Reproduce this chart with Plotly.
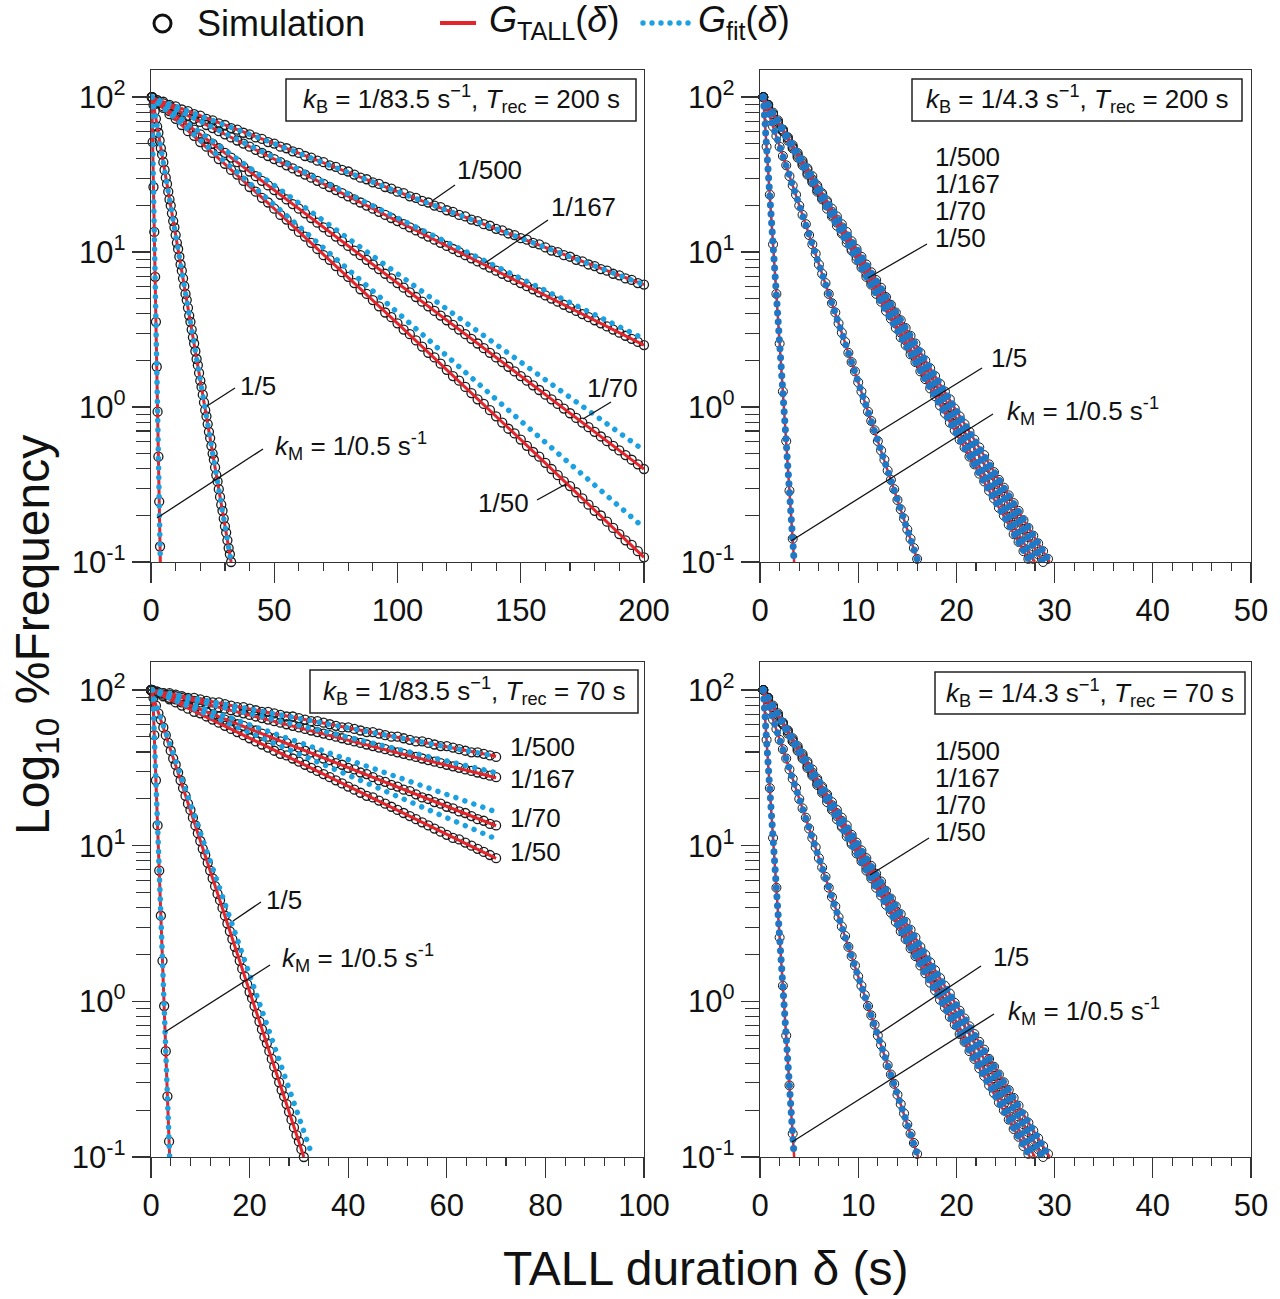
import plotly.graph_objects as go

W, H = 1280, 1299
FONT = "Liberation Sans, Arial, sans-serif"
TXT = "#111111"
AX = "#333333"
SIM_C = "#1a1a1a"
RED = "#e3242b"
BLUE_L = "#1ba1e2"   # Gfit colour, left panels
BLUE_R = "#1f78c6"   # Gfit colour, right panels

# ---------------- data: log10(%Frequency) ----------------
# Top-left panel: kB = 1/83.5 s^-1, Trec = 200 s
TL_T_SLOW = [0.33, 2.5, 5, 7.5, 10, 12.5, 15, 17.5, 20, 22.5, 25, 27.5, 30, 32.5, 35, 37.5, 40, 42.5, 45, 47.5,
             50, 52.5, 55, 57.5, 60, 62.5, 65, 67.5, 70, 72.5, 75, 77.5, 80, 82.5, 85, 87.5, 90, 92.5, 95, 97.5,
             100, 102.5, 105, 107.5, 110, 112.5, 115, 117.5, 120, 122.5, 125, 127.5, 130, 132.5, 135, 137.5,
             140, 142.5, 145, 147.5, 150, 152.5, 155, 157.5, 160, 162.5, 165, 167.5, 170, 172.5, 175, 177.5,
             180, 182.5, 185, 187.5, 190, 192.5, 195, 197.5, 200]
TL_SIM_500 = [2.00, 1.98, 1.97, 1.95, 1.94, 1.92, 1.91, 1.89, 1.88, 1.86,
              1.85, 1.83, 1.82, 1.80, 1.79, 1.77, 1.76, 1.74, 1.73, 1.71,
              1.70, 1.68, 1.67, 1.65, 1.64, 1.62, 1.61, 1.59, 1.58, 1.56,
              1.55, 1.53, 1.52, 1.50, 1.48, 1.47, 1.45, 1.44, 1.42, 1.41,
              1.39, 1.38, 1.36, 1.35, 1.33, 1.32, 1.30, 1.29, 1.27, 1.26,
              1.24, 1.23, 1.21, 1.20, 1.18, 1.17, 1.15, 1.14, 1.12, 1.11,
              1.09, 1.08, 1.06, 1.05, 1.03, 1.01, 1.00, 0.98, 0.97, 0.95,
              0.94, 0.92, 0.91, 0.89, 0.88, 0.86, 0.85, 0.83, 0.82, 0.80, 0.79]
TL_SIM_167 = [2.00, 1.98, 1.96, 1.94, 1.92, 1.90, 1.88, 1.86, 1.84, 1.82,
              1.80, 1.78, 1.76, 1.74, 1.72, 1.70, 1.68, 1.66, 1.64, 1.62,
              1.60, 1.58, 1.56, 1.54, 1.52, 1.50, 1.48, 1.46, 1.44, 1.42,
              1.40, 1.38, 1.36, 1.34, 1.32, 1.30, 1.28, 1.26, 1.24, 1.22,
              1.20, 1.18, 1.16, 1.14, 1.12, 1.10, 1.08, 1.06, 1.04, 1.02,
              1.00, 0.98, 0.96, 0.94, 0.92, 0.90, 0.88, 0.86, 0.84, 0.82,
              0.80, 0.78, 0.76, 0.74, 0.72, 0.70, 0.68, 0.66, 0.64, 0.62,
              0.60, 0.58, 0.56, 0.54, 0.52, 0.50, 0.48, 0.46, 0.44, 0.42, 0.40]
TL_SIM_70 = [2.00, 1.97, 1.94, 1.91, 1.88, 1.85, 1.82, 1.79, 1.76, 1.73,
             1.70, 1.67, 1.64, 1.61, 1.58, 1.55, 1.52, 1.49, 1.46, 1.43,
             1.40, 1.37, 1.34, 1.31, 1.28, 1.25, 1.22, 1.19, 1.16, 1.13,
             1.10, 1.07, 1.04, 1.01, 0.98, 0.95, 0.92, 0.89, 0.86, 0.83,
             0.80, 0.77, 0.74, 0.71, 0.68, 0.65, 0.62, 0.59, 0.56, 0.53,
             0.50, 0.47, 0.44, 0.41, 0.38, 0.35, 0.32, 0.29, 0.26, 0.23,
             0.20, 0.17, 0.14, 0.11, 0.08, 0.05, 0.02, -0.01, -0.04, -0.07,
             -0.10, -0.13, -0.16, -0.19, -0.22, -0.25, -0.28, -0.31, -0.34, -0.37, -0.40]
TL_SIM_50 = [2.00,
             1.96, 1.93, 1.89, 1.86, 1.82, 1.78, 1.75, 1.71, 1.68, 1.64,
             1.60, 1.57, 1.53, 1.50, 1.46, 1.42, 1.39, 1.35, 1.32, 1.28,
             1.24, 1.21, 1.17, 1.13, 1.10, 1.06, 1.02, 0.98, 0.95, 0.91,
             0.87, 0.84, 0.80, 0.76, 0.73, 0.69, 0.65, 0.61, 0.58, 0.54,
             0.50, 0.47, 0.43, 0.39, 0.35, 0.32, 0.28, 0.24, 0.20, 0.17,
             0.13, 0.09, 0.05, 0.02, -0.02, -0.06, -0.10, -0.14, -0.17, -0.21,
             -0.25, -0.29, -0.32, -0.36, -0.40, -0.44, -0.48, -0.51, -0.55, -0.59,
             -0.63, -0.67, -0.70, -0.74, -0.78, -0.82, -0.86, -0.89, -0.93, -0.97]
TL_T_FAST = [0.5, 1, 1.5, 2, 2.5, 3, 3.5, 4, 4.5, 5, 5.5, 6, 6.5, 7, 7.5, 8, 8.5, 9, 9.5, 10,
             10.5, 11, 11.5, 12, 12.5, 13, 13.5, 14, 14.5, 15, 15.5, 16, 16.5, 17, 17.5, 18, 18.5, 19, 19.5, 20,
             20.5, 21, 21.5, 22, 22.5, 23, 23.5, 24, 24.5, 25, 25.5, 26, 26.5, 27, 27.5, 28, 28.5, 29, 29.5, 30,
             30.5, 31, 31.5, 32, 32.5]
TL_SIM_5 = [2.00, 1.95, 1.91, 1.86, 1.81, 1.77, 1.72, 1.67, 1.63, 1.58,
            1.53, 1.48, 1.44, 1.39, 1.34, 1.30, 1.25, 1.20, 1.16, 1.11,
            1.06, 1.02, 0.97, 0.92, 0.88, 0.83, 0.78, 0.73, 0.69, 0.64,
            0.59, 0.55, 0.50, 0.45, 0.41, 0.36, 0.31, 0.27, 0.22, 0.17,
            0.13, 0.08, 0.03, -0.02, -0.06, -0.11, -0.16, -0.20, -0.25, -0.30,
            -0.34, -0.39, -0.44, -0.48, -0.53, -0.58, -0.63, -0.67, -0.72, -0.77,
            -0.81, -0.86, -0.91, -0.95, -1.00]
L_T_KM = [0.33, 0.67, 1.0, 1.33, 1.67, 2.0, 2.33, 2.67, 3.0, 3.33, 3.67]
L_SIM_KM = [2.00, 1.71, 1.42, 1.13, 0.84, 0.55, 0.26, -0.03, -0.32, -0.61, -0.90]

TL_T_LINE = [0, 50, 100, 150, 200]
TL_RED_500 = [2.00, 1.70, 1.39, 1.09, 0.79]
TL_RED_167 = [2.00, 1.60, 1.20, 0.80, 0.40]
TL_RED_70 = [2.00, 1.40, 0.80, 0.20, -0.40]
TL_RED_50 = [2.00, 1.28, 0.54, -0.21, -0.97]
TL_FIT_500 = [2.00, 1.70, 1.39, 1.09, 0.79]
TL_FIT_167 = [2.00, 1.61, 1.22, 0.83, 0.44]
TL_FIT_70 = [2.00, 1.43, 0.86, 0.29, -0.28]
TL_FIT_50 = [2.00, 1.31, 0.61, -0.09, -0.78]
TL_T_LINE5 = [0.5, 32.5]
TL_RED_5 = [2.00, -1.00]
TL_FIT_5 = [2.00, -1.00]
L_T_LINEKM = [0.33, 3.78]
L_RED_KM = [2.00, -1.00]
L_FIT_KM = [2.00, -1.00]

# Bottom-left panel: kB = 1/83.5 s^-1, Trec = 70 s
BL_T_SLOW = [0, 1.25, 2.5, 3.75, 5, 6.25, 7.5, 8.75, 10, 11.25, 12.5, 13.75, 15, 16.25, 17.5, 18.75,
             20, 21.25, 22.5, 23.75, 25, 26.25, 27.5, 28.75, 30, 31.25, 32.5, 33.75, 35, 36.25, 37.5, 38.75,
             40, 41.25, 42.5, 43.75, 45, 46.25, 47.5, 48.75, 50, 51.25, 52.5, 53.75, 55, 56.25, 57.5, 58.75,
             60, 61.25, 62.5, 63.75, 65, 66.25, 67.5, 68.75, 70]
BL_SIM_500 = [2.00, 1.99, 1.98, 1.98, 1.97, 1.96, 1.95, 1.95, 1.94, 1.93,
              1.92, 1.92, 1.91, 1.90, 1.89, 1.89, 1.88, 1.87, 1.86, 1.86,
              1.85, 1.84, 1.83, 1.83, 1.82, 1.81, 1.80, 1.80, 1.79, 1.78,
              1.77, 1.76, 1.76, 1.75, 1.74, 1.73, 1.73, 1.72, 1.71, 1.70,
              1.70, 1.69, 1.68, 1.67, 1.67, 1.66, 1.65, 1.64, 1.64, 1.63,
              1.62, 1.61, 1.60, 1.60, 1.59, 1.58, 1.57]
BL_SIM_167 = [2.00, 1.99, 1.98, 1.97, 1.96, 1.95, 1.94, 1.93, 1.92, 1.91,
              1.90, 1.89, 1.88, 1.87, 1.86, 1.85, 1.84, 1.83, 1.82, 1.81,
              1.80, 1.79, 1.78, 1.77, 1.76, 1.75, 1.74, 1.73, 1.72, 1.71,
              1.70, 1.69, 1.68, 1.67, 1.66, 1.65, 1.64, 1.63, 1.62, 1.61,
              1.60, 1.59, 1.58, 1.57, 1.56, 1.55, 1.54, 1.53, 1.52, 1.51,
              1.50, 1.49, 1.48, 1.47, 1.46, 1.45, 1.44]
BL_SIM_70 = [2.00, 1.98, 1.97, 1.95, 1.94, 1.92, 1.91, 1.89, 1.88, 1.86,
             1.84, 1.83, 1.81, 1.80, 1.78, 1.77, 1.75, 1.74, 1.72, 1.70,
             1.69, 1.67, 1.66, 1.64, 1.63, 1.61, 1.60, 1.58, 1.56, 1.55,
             1.53, 1.52, 1.50, 1.49, 1.47, 1.46, 1.44, 1.42, 1.41, 1.39,
             1.38, 1.36, 1.35, 1.33, 1.31, 1.30, 1.28, 1.27, 1.25, 1.24,
             1.22, 1.21, 1.19, 1.17, 1.16, 1.14, 1.13]
BL_SIM_50 = [2.00, 1.98, 1.96, 1.94, 1.92, 1.90, 1.88, 1.86, 1.85, 1.83,
             1.81, 1.79, 1.77, 1.75, 1.73, 1.71, 1.69, 1.67, 1.65, 1.63,
             1.61, 1.59, 1.58, 1.56, 1.54, 1.52, 1.50, 1.48, 1.46, 1.44,
             1.42, 1.40, 1.38, 1.36, 1.34, 1.32, 1.31, 1.29, 1.27, 1.25,
             1.23, 1.21, 1.19, 1.17, 1.15, 1.13, 1.11, 1.09, 1.07, 1.05,
             1.04, 1.02, 1.00, 0.98, 0.96, 0.94, 0.92]
BL_T_FAST = [0, 0.5, 1, 1.5, 2, 2.5, 3, 3.5, 4, 4.5, 5, 5.5, 6, 6.5, 7, 7.5, 8, 8.5, 9, 9.5, 10,
             10.5, 11, 11.5, 12, 12.5, 13, 13.5, 14, 14.5, 15, 15.5, 16, 16.5, 17, 17.5, 18, 18.5, 19, 19.5, 20,
             20.5, 21, 21.5, 22, 22.5, 23, 23.5, 24, 24.5, 25, 25.5, 26, 26.5, 27, 27.5, 28, 28.5, 29, 29.5, 30,
             30.5, 31]
BL_SIM_5 = [2.00,
            1.95, 1.90, 1.85, 1.81, 1.76, 1.71, 1.66, 1.61, 1.56, 1.52,
            1.47, 1.42, 1.37, 1.32, 1.27, 1.23, 1.18, 1.13, 1.08, 1.03,
            0.98, 0.94, 0.89, 0.84, 0.79, 0.74, 0.69, 0.65, 0.60, 0.55,
            0.50, 0.45, 0.40, 0.35, 0.31, 0.26, 0.21, 0.16, 0.11, 0.06,
            0.02, -0.03, -0.08, -0.13, -0.18, -0.23, -0.27, -0.32, -0.37, -0.42,
            -0.47, -0.52, -0.57, -0.61, -0.66, -0.71, -0.76, -0.81, -0.86, -0.90,
            -0.95, -1.00]
BL_T_LINE = [0, 70]
BL_RED_500 = [2.00, 1.574]
BL_RED_167 = [2.00, 1.436]
BL_RED_70 = [2.00, 1.128]
BL_RED_50 = [2.00, 0.919]
BL_FIT_500 = [2.00, 1.574]
BL_FIT_167 = [2.00, 1.468]
BL_FIT_70 = [2.00, 1.217]
BL_FIT_50 = [2.00, 1.043]
BL_T_RED5 = [0, 31]
BL_RED_5 = [2.00, -1.00]
BL_T_FIT5 = [0, 32.8]
BL_FIT_5 = [2.00, -1.00]

# Right panels (kB = 1/4.3 s^-1; Trec = 200 s and 70 s read identically)
R_T_THIRD = [0.33, 0.67, 1.0, 1.33, 1.67, 2.0, 2.33, 2.67, 3.0, 3.33, 3.67, 4.0, 4.33, 4.67, 5.0, 5.33,
             5.67, 6.0, 6.33, 6.67, 7.0, 7.33, 7.67, 8.0, 8.33, 8.67, 9.0, 9.33, 9.67, 10.0, 10.33, 10.67,
             11.0, 11.33, 11.67, 12.0, 12.33, 12.67, 13.0, 13.33, 13.67, 14.0, 14.33, 14.67, 15.0, 15.33,
             15.67, 16.0]
R_SIM_KM = [2.00, 1.68, 1.37, 1.05, 0.73, 0.41, 0.10, -0.22, -0.54, -0.85]
R_SIM_5 = [2.00, 1.94, 1.87, 1.81, 1.75, 1.68, 1.62, 1.56, 1.49, 1.43,
           1.37, 1.30, 1.24, 1.18, 1.11, 1.05, 0.99, 0.92, 0.86, 0.80,
           0.73, 0.67, 0.61, 0.54, 0.48, 0.42, 0.35, 0.29, 0.23, 0.16,
           0.10, 0.04, -0.03, -0.09, -0.15, -0.22, -0.28, -0.34, -0.41, -0.47,
           -0.53, -0.60, -0.66, -0.72, -0.79, -0.85, -0.91, -0.98]
R_T_BAND = [0.33, 0.83, 1.33, 1.83, 2.33, 2.83, 3.33, 3.83, 4.33, 4.83, 5.33, 5.83, 6.33, 6.83, 7.33,
            7.83, 8.33, 8.83, 9.33, 9.83, 10.33, 10.83, 11.33, 11.83, 12.33, 12.83, 13.33, 13.83, 14.33,
            14.83, 15.33, 15.83, 16.33, 16.83, 17.33, 17.83, 18.33, 18.83, 19.33, 19.83, 20.33, 20.83,
            21.33, 21.83, 22.33, 22.83, 23.33, 23.83, 24.33, 24.83, 25.33, 25.83, 26.33, 26.83, 27.33,
            27.83, 28.33, 28.83, 29.33]
R_SIM_500 = [2.00, 1.95, 1.90, 1.85, 1.79, 1.74, 1.69, 1.64, 1.59, 1.54,
             1.49, 1.43, 1.38, 1.33, 1.28, 1.23, 1.18, 1.13, 1.07, 1.02,
             0.97, 0.92, 0.87, 0.82, 0.77, 0.71, 0.66, 0.61, 0.56, 0.51,
             0.46, 0.41, 0.35, 0.30, 0.25, 0.20, 0.15, 0.10, 0.05, -0.01,
             -0.06, -0.11, -0.16, -0.21, -0.26, -0.31, -0.37, -0.42, -0.47, -0.52,
             -0.57, -0.62, -0.67, -0.73, -0.78, -0.83, -0.88, -0.93, -0.98]
R_SIM_167 = [2.00, 1.95, 1.89, 1.84, 1.79, 1.74, 1.68, 1.63, 1.58, 1.53,
             1.47, 1.42, 1.37, 1.32, 1.26, 1.21, 1.16, 1.10, 1.05, 1.00,
             0.95, 0.89, 0.84, 0.79, 0.74, 0.68, 0.63, 0.58, 0.52, 0.47,
             0.42, 0.37, 0.31, 0.26, 0.21, 0.16, 0.10, 0.05, 0.00, -0.05,
             -0.11, -0.16, -0.21, -0.27, -0.32, -0.37, -0.42, -0.48, -0.53, -0.58,
             -0.63, -0.69, -0.74, -0.79, -0.84, -0.90, -0.95, -1.00]
R_SIM_70 = [2.00, 1.95, 1.89, 1.84, 1.78, 1.73, 1.67, 1.62, 1.57, 1.51,
            1.46, 1.40, 1.35, 1.30, 1.24, 1.19, 1.13, 1.08, 1.02, 0.97,
            0.92, 0.86, 0.81, 0.75, 0.70, 0.65, 0.59, 0.54, 0.48, 0.43,
            0.37, 0.32, 0.27, 0.21, 0.16, 0.10, 0.05, -0.01, -0.06, -0.11,
            -0.17, -0.22, -0.28, -0.33, -0.38, -0.44, -0.49, -0.55, -0.60, -0.66,
            -0.71, -0.76, -0.82, -0.87, -0.93, -0.98]
R_SIM_50 = [2.00, 1.94, 1.89, 1.83, 1.78, 1.72, 1.67, 1.61, 1.56, 1.50,
            1.45, 1.39, 1.34, 1.28, 1.23, 1.17, 1.12, 1.06, 1.01, 0.95,
            0.90, 0.84, 0.79, 0.73, 0.68, 0.62, 0.57, 0.51, 0.45, 0.40,
            0.34, 0.29, 0.23, 0.18, 0.12, 0.07, 0.01, -0.04, -0.10, -0.15,
            -0.21, -0.26, -0.32, -0.37, -0.43, -0.48, -0.54, -0.59, -0.65, -0.70,
            -0.76, -0.82, -0.87, -0.93, -0.98]
R_T_LINE_KM = [0.33, 3.48]
R_T_LINE_5 = [0.33, 16.1]
R_T_LINE_500 = [0.33, 29.5]
R_T_LINE_167 = [0.33, 28.8]
R_T_LINE_70 = [0.33, 28.0]
R_T_LINE_50 = [0.33, 27.5]
R_LINE = [2.00, -1.00]

Y_TICKVALS = [0.1, 1, 10, 100]
Y_TICKTEXT = ["10<sup>-1</sup>", "10<sup>0</sup>", "10<sup>1</sup>", "10<sup>2</sup>"]
Y_MINOR = [0.2, 0.3, 0.4, 0.5, 0.6, 0.7, 0.8, 0.9, 2, 3, 4, 5, 6, 7, 8, 9, 20, 30, 40, 50, 60, 70, 80, 90]


def pct(logs):
    """convert log10(%Frequency) readings into %Frequency for the log axis"""
    return [10 ** v for v in logs]


fig = go.Figure()


def sim(t, v, xa, ya, size, lw):
    fig.add_trace(go.Scatter(x=t[:len(v)], y=pct(v), mode="markers", xaxis=xa, yaxis=ya,
                             marker=dict(symbol="circle-open", size=size, color=SIM_C,
                                         line=dict(width=lw, color=SIM_C)),
                             cliponaxis=False, showlegend=False, hoverinfo="skip"))


def red(t, v, xa, ya, w=3):
    fig.add_trace(go.Scatter(x=t, y=pct(v), mode="lines", xaxis=xa, yaxis=ya,
                             line=dict(color=RED, width=w), showlegend=False, hoverinfo="skip"))


def fit(t, v, xa, ya, color, w):
    fig.add_trace(go.Scatter(x=t, y=pct(v), mode="lines", xaxis=xa, yaxis=ya,
                             line=dict(color=color, width=w, dash="%gpx,%gpx" % (w, w * 0.7)),
                             showlegend=False, hoverinfo="skip"))


# ---- top-left
for t, v in [(TL_T_SLOW, TL_SIM_500), (TL_T_SLOW, TL_SIM_167), (TL_T_SLOW, TL_SIM_70),
             (TL_T_SLOW, TL_SIM_50), (TL_T_FAST, TL_SIM_5), (L_T_KM, L_SIM_KM)]:
    sim(t, v, "x", "y", 9, 1.3)
for t, v in [(TL_T_LINE, TL_RED_500), (TL_T_LINE, TL_RED_167), (TL_T_LINE, TL_RED_70),
             (TL_T_LINE, TL_RED_50), (TL_T_LINE5, TL_RED_5), (L_T_LINEKM, L_RED_KM)]:
    red(t, v, "x", "y")
for t, v in [(TL_T_LINE, TL_FIT_500), (TL_T_LINE, TL_FIT_167), (TL_T_LINE, TL_FIT_70),
             (TL_T_LINE, TL_FIT_50), (TL_T_LINE5, TL_FIT_5), (L_T_LINEKM, L_FIT_KM)]:
    fit(t, v, "x", "y", BLUE_L, 5.5)

# ---- bottom-left
for t, v in [(BL_T_SLOW, BL_SIM_500), (BL_T_SLOW, BL_SIM_167), (BL_T_SLOW, BL_SIM_70),
             (BL_T_SLOW, BL_SIM_50), (BL_T_FAST, BL_SIM_5), (L_T_KM, L_SIM_KM)]:
    sim(t, v, "x3", "y3", 9, 1.3)
for t, v in [(BL_T_LINE, BL_RED_500), (BL_T_LINE, BL_RED_167), (BL_T_LINE, BL_RED_70),
             (BL_T_LINE, BL_RED_50), (BL_T_RED5, BL_RED_5), (L_T_LINEKM, L_RED_KM)]:
    red(t, v, "x3", "y3")
for t, v in [(BL_T_LINE, BL_FIT_500), (BL_T_LINE, BL_FIT_167), (BL_T_LINE, BL_FIT_70),
             (BL_T_LINE, BL_FIT_50), (BL_T_FIT5, BL_FIT_5), (L_T_LINEKM, L_FIT_KM)]:
    fit(t, v, "x3", "y3", BLUE_L, 5.5)

# ---- right panels (top: x2/y2, bottom: x4/y4)
for xa, ya in [("x2", "y2"), ("x4", "y4")]:
    for t, v in [(R_T_BAND, R_SIM_500), (R_T_BAND, R_SIM_167), (R_T_BAND, R_SIM_70),
                 (R_T_BAND, R_SIM_50), (R_T_THIRD, R_SIM_5), (R_T_THIRD, R_SIM_KM)]:
        sim(t, v, xa, ya, 9, 1)
    for t in [R_T_LINE_500, R_T_LINE_167, R_T_LINE_70, R_T_LINE_50, R_T_LINE_5, R_T_LINE_KM]:
        red(t, R_LINE, xa, ya, 2.5)
    for t in [R_T_LINE_500, R_T_LINE_167, R_T_LINE_70, R_T_LINE_50, R_T_LINE_5, R_T_LINE_KM]:
        fit(t, R_LINE, xa, ya, BLUE_R, 7)


# ---------------- axes ----------------
def px(x):
    return x / W


def py(y):
    return 1 - y / H


def xaxis(dom, rng, dtick, mdtick, anchor):
    return dict(domain=dom, range=rng, anchor=anchor, tickmode="linear", tick0=0, dtick=dtick,
                ticks="outside", ticklen=20, tickwidth=1.3, tickcolor=AX,
                showline=True, linecolor=AX, linewidth=1.3, mirror=True,
                showgrid=False, zeroline=False, automargin=False,
                tickfont=dict(size=31, color=TXT, family=FONT),
                minor=dict(ticks="outside", ticklen=8, tickwidth=1.1, tickcolor=AX,
                           dtick=mdtick, tick0=0, showgrid=False))


def yaxis(dom, top, anchor):
    return dict(domain=dom, type="log", range=[-1, top], anchor=anchor,
                tickmode="array", tickvals=Y_TICKVALS, ticktext=Y_TICKTEXT,
                ticks="outside", ticklen=18, tickwidth=1.3, tickcolor=AX,
                showline=True, linecolor=AX, linewidth=1.3, mirror=True,
                showgrid=False, zeroline=False, automargin=False,
                tickfont=dict(size=31, color=TXT, family=FONT),
                minor=dict(tickmode="array", tickvals=Y_MINOR, ticks="outside", ticklen=14,
                           tickwidth=1.1, tickcolor=AX, showgrid=False))


XL = [px(151), px(644)]
XR = [px(760), px(1251)]
YT = [py(562), py(70)]
YB = [py(1157), py(662)]

fig.update_layout(
    width=W, height=H, autosize=False,
    margin=dict(l=0, r=0, t=0, b=0, pad=0),
    paper_bgcolor="white", plot_bgcolor="white",
    font=dict(family=FONT, color=TXT),
    showlegend=False,
    xaxis=xaxis(XL, [0, 200], 50, 10, "y"),
    yaxis=yaxis(YT, 2.175, "x"),
    xaxis2=xaxis(XR, [0, 50], 10, 2, "y2"),
    yaxis2=yaxis(YT, 2.175, "x2"),
    xaxis3=xaxis(XL, [0, 100], 20, 4, "y3"),
    yaxis3=yaxis(YB, 2.18, "x3"),
    xaxis4=xaxis(XR, [0, 50], 10, 2, "y4"),
    yaxis4=yaxis(YB, 2.18, "x4"),
)

# ---------------- text, boxes, leader lines ----------------
shapes = []
annos = []


def box(x0, y0, x1, y1):
    shapes.append(dict(type="rect", xref="paper", yref="paper", x0=px(x0), x1=px(x1),
                       y0=py(y1), y1=py(y0), line=dict(color="#222", width=1.5), fillcolor="white",
                       layer="above"))


def leader(x0, y0, x1, y1):
    shapes.append(dict(type="line", xref="paper", yref="paper", x0=px(x0), y0=py(y0),
                       x1=px(x1), y1=py(y1), line=dict(color="#111", width=1.3)))


def text(s, x, y, size, xanchor="center", angle=0):
    annos.append(dict(text=s, xref="paper", yref="paper", x=px(x), y=py(y), xanchor=xanchor,
                      yanchor="middle", showarrow=False, textangle=angle,
                      font=dict(size=size, color=TXT, family=FONT)))


KM = "<i>k</i><sub>M</sub> = 1/0.5 s<sup>-1</sup>"
LS = 26

# top-left
box(286, 79, 636, 121)
text("<i>k</i><sub>B</sub> = 1/83.5 s<sup>\u22121</sup>, <i>T</i><sub>rec</sub> = 200 s", 461, 99, 26)
text("1/500", 489, 170, LS); leader(455, 185, 432, 201)
text("1/167", 583, 207, LS); leader(548, 220, 485, 263)
text("1/70", 612, 388, LS); leader(611, 402, 583, 419)
text("1/50", 503, 503, LS); leader(537, 500, 566, 484)
text("1/5", 258, 386, LS); leader(235, 388, 207, 406)
text(KM, 273, 446, LS, "left"); leader(263, 449, 157, 518)

# top-right
box(912, 79, 1242, 121)
text("<i>k</i><sub>B</sub> = 1/4.3 s<sup>\u22121</sup>, <i>T</i><sub>rec</sub> = 200 s", 1077, 99, 26)
for s, y in [("1/500", 157), ("1/167", 184), ("1/70", 211), ("1/50", 238)]:
    text(s, 933, y, LS, "left")
leader(927, 244, 868, 278)
text("1/5", 1009, 358, LS); leader(982, 368, 877, 433)
text(KM, 1005, 411, LS, "left"); leader(993, 414, 791, 541)

# bottom-left
box(310, 670, 638, 713)
text("<i>k</i><sub>B</sub> = 1/83.5 s<sup>\u22121</sup>, <i>T</i><sub>rec</sub> = 70 s", 474, 691, 26)
for s, y in [("1/500", 747), ("1/167", 779), ("1/70", 818), ("1/50", 852)]:
    text(s, 508, y, LS, "left")
text("1/5", 284, 900, LS); leader(261, 902, 233, 921)
text(KM, 280, 958, LS, "left"); leader(270, 965, 165, 1032)

# bottom-right
box(935, 672, 1245, 714)
text("<i>k</i><sub>B</sub> = 1/4.3 s<sup>\u22121</sup>, <i>T</i><sub>rec</sub> = 70 s", 1090, 693, 26)
for s, y in [("1/500", 751), ("1/167", 778), ("1/70", 805), ("1/50", 832)]:
    text(s, 933, y, LS, "left")
leader(929, 838, 870, 875)
text("1/5", 1011, 957, LS); leader(981, 966, 880, 1033)
text(KM, 1006, 1011, LS, "left"); leader(994, 1014, 792, 1142)

# axis titles
text("Log<sub>10</sub> %Frequency", 36, 635, 48, angle=-90)
text("TALL duration \u03b4 (s)", 706, 1268, 48)

# legend (drawn manually)
shapes.append(dict(type="circle", xref="paper", yref="paper", x0=px(154), x1=px(171), y0=py(32), y1=py(15),
                   line=dict(color="#111", width=3)))
text("Simulation", 195, 24, 36, "left")
shapes.append(dict(type="line", xref="paper", yref="paper", x0=px(440), x1=px(476), y0=py(23), y1=py(23),
                   line=dict(color=RED, width=4)))
text("<i>G</i><sub>TALL</sub>(<i>\u03b4</i>)", 487, 22, 36, "left")
for cx in [643, 652, 661, 670, 679, 688]:
    shapes.append(dict(type="circle", xref="paper", yref="paper", x0=px(cx - 2.7), x1=px(cx + 2.7),
                       y0=py(25.7), y1=py(20.3), line=dict(width=0), fillcolor=BLUE_L))
text("<i>G</i><sub>fit</sub>(<i>\u03b4</i>)", 696, 22, 36, "left")

fig.update_layout(shapes=shapes, annotations=annos)

POST = """
document.documentElement.style.margin = '0';
document.documentElement.style.padding = '0';
document.documentElement.style.overflow = 'hidden';
document.body.style.margin = '0';
document.body.style.padding = '0';
document.body.style.overflow = 'hidden';
var gd = document.getElementById('{plot_id}');
function roundDots() {
  var paths = gd.querySelectorAll('path.js-line');
  for (var i = 0; i < paths.length; i++) {
    var p = paths[i];
    var c = p.style.stroke;
    var gap = null;
    if (c === 'rgb(27, 161, 226)') { gap = 9.5; }
    else if (c === 'rgb(31, 120, 198)') { gap = 9; }
    if (gap !== null) {
      p.style.strokeLinecap = 'round';
      p.style.strokeDasharray = '0.01px,' + gap + 'px';
    }
  }
}
roundDots();
gd.on('plotly_afterplot', roundDots);
"""

fig.write_html("out.html", post_script=POST,
               config={"responsive": False, "displayModeBar": False, "staticPlot": True})
